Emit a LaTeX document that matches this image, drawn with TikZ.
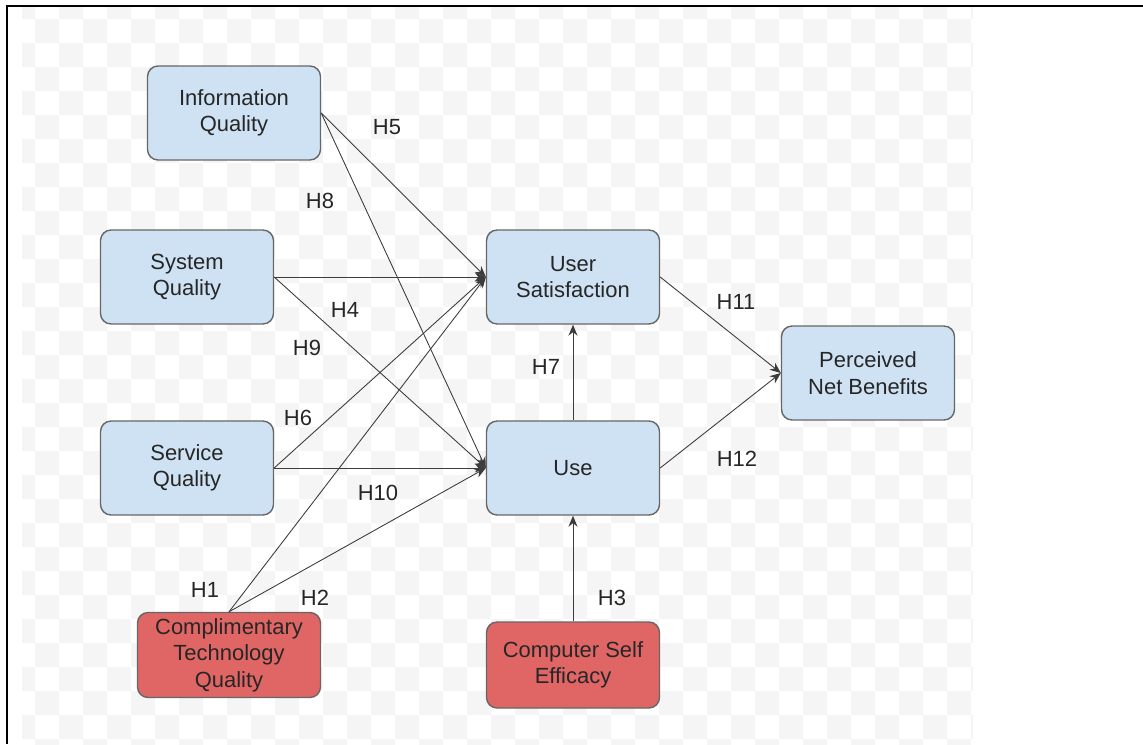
\documentclass[tikz,border=0pt]{standalone}
\usepackage{fontspec}
\setmainfont{Liberation Sans}
\usepackage{xcolor}
\usepackage{tikz}
\usetikzlibrary{arrows.meta, positioning, calc}
\definecolor{BoxBlue}{RGB}{207, 226, 243}
\definecolor{BoxRed}{RGB}{224, 102, 102}
\definecolor{BoxEdge}{RGB}{102, 102, 102}
\definecolor{CheckGray}{RGB}{245, 245, 245}
\definecolor{LinkGray}{RGB}{60, 60, 60}

\tikzset{
  construct/.style={rounded corners=6pt, draw=BoxEdge, line width=0.8pt,
    fill=BoxBlue, minimum width=3.46cm, minimum height=1.88cm,
    align=center, inner sep=2pt, text=black!85,
    font=\fontsize{12.5}{15}\selectfont},
  driver/.style={construct, fill=BoxRed},
  link/.style={draw=LinkGray, line width=0.5pt,
    -{Stealth[length=2.2mm, width=1.8mm]}},
  hyp/.style={text=black!85, inner sep=0pt, font=\fontsize{12.5}{15}\selectfont}
}

\begin{document}
\begin{tikzpicture}[x=0.02cm, y=-0.02cm]
    \useasboundingbox (0,0) rectangle (1143,744);

    % checkered backdrop
    \begin{scope}
      \clip (22,7) rectangle (973,744);
      \foreach \i in {0,...,40} {
        \foreach \j in {0,...,31} {
          \pgfmathtruncatemacro{\checkpar}{mod(\i+\j,2)}
          \ifnum\checkpar=0
            \fill[CheckGray] ({11+24*\i},{-5+24*\j}) rectangle ++(24,24);
          \fi
        }
      }
    \end{scope}
    \draw[black, line width=1.2pt] (1143,6) -- (7,6) -- (7,744);

    % constructs
    \node[construct] (iq)  at (234,113) {Information\\Quality};
    \node[construct] (sq)  at (187,277) {System\\Quality};
    \node[construct] (svq) at (187,468) {Service\\Quality};
    \node[driver, minimum width=3.66cm, minimum height=1.7cm] (ctq) at (229,655)
      {Complimentary\\Technology\\Quality};
    \node[construct] (us)  at (573,277) {User\\Satisfaction};
    \node[construct] (use) at (573,468) {Use};
    \node[construct] (pnb) at (868,373) {Perceived\\Net Benefits};
    \node[driver, minimum height=1.72cm] (cse) at (573,665) {Computer Self\\Efficacy};

    % paths
    \draw[link] (iq.east) -- (us.west);
    \draw[link] (iq.east) -- (use.west);
    \draw[link] (sq.east) -- (us.west);
    \draw[link] (sq.east) -- (use.west);
    \draw[link] (svq.east) -- (us.west);
    \draw[link] (svq.east) -- (use.west);
    \draw[link] (ctq.north) -- (us.west);
    \draw[link] (ctq.north) -- (use.west);
    \draw[link] (use.north) -- (us.south);
    \draw[link] (cse.north) -- (use.south);
    \draw[link] (us.east) -- (pnb.west);
    \draw[link] (use.east) -- (pnb.west);

    % hypotheses
    \node[hyp] (h1)  at (205,590) {H1};
    \node[hyp] (h2)  at (315,598) {H2};
    \node[hyp] (h3)  at (612,598) {H3};
    \node[hyp] (h4)  at (345,310) {H4};
    \node[hyp] (h5)  at (387,127) {H5};
    \node[hyp] (h6)  at (298,418) {H6};
    \node[hyp] (h7)  at (546,367) {H7};
    \node[hyp] (h8)  at (320,201) {H8};
    \node[hyp] (h9)  at (307,348) {H9};
    \node[hyp] (h10) at (378,493) {H10};
    \node[hyp] (h11) at (736,302) {H11};
    \node[hyp] (h12) at (737,459) {H12};
  \end{tikzpicture}
\end{document}
